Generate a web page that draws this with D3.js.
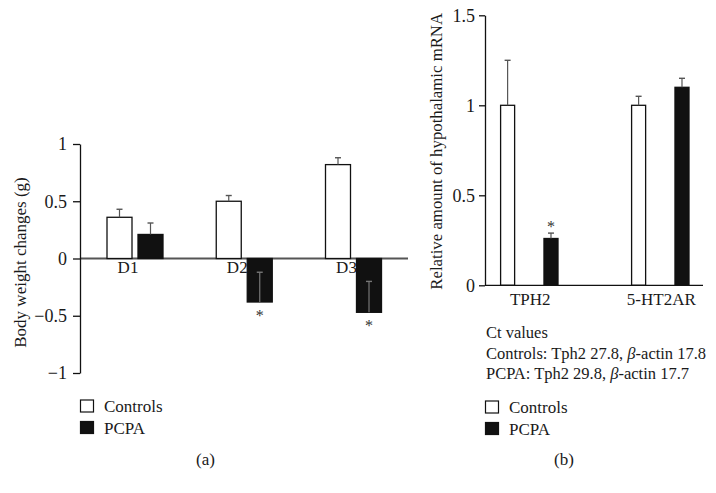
<!DOCTYPE html>
<html>
<head>
<meta charset="utf-8">
<script src="https://cdn.jsdelivr.net/npm/d3@7"></script>
<style>
  body { margin: 0; background: #fff; }
  svg text { font-family: "Liberation Serif", "DejaVu Serif", serif; fill: #1a1a1a; }
</style>
</head>
<body>
<div id="chart"></div>
<script>
// Panel (a): body weight changes
const days = ["D1", "D2", "D3"];
const ctrlA = [0.36, 0.50, 0.82];
const ctrlErrA = [0.07, 0.05, 0.06];
const pcpaA = [0.21, -0.38, -0.47];
const pcpaErrA = [0.10, 0.26, 0.27];
const starA = [false, true, true];
const ticksA = [-1, -0.5, 0, 0.5, 1];

// Panel (b): relative hypothalamic mRNA
const genes = ["TPH2", "5-HT2AR"];
const ctrlB = [1.0, 1.0];
const ctrlErrB = [0.25, 0.05];
const pcpaB = [0.26, 1.10];
const pcpaErrB = [0.03, 0.05];
const starB = [true, false];
const ticksB = [0, 0.5, 1, 1.5];

const series = ["Controls", "PCPA"];
const ctValues = ["Ct values", "Controls: Tph2 27.8, ", "PCPA: Tph2 29.8, "];

const W = 716, H = 493;
const FS = 17;   // general text size
const svg = d3.select("#chart").append("svg").attr("width", W).attr("height", H);
const fmt = d => d3.format("")(d);
const barFill = { Controls: "#fff", PCPA: "#111" };

function rows(ctrl, ctrlErr, pcpa, pcpaErr, cats) {
  const out = [];
  cats.forEach((c, i) => {
    out.push({ cat: c, s: "Controls", v: ctrl[i], e: ctrlErr[i] });
    out.push({ cat: c, s: "PCPA", v: pcpa[i], e: pcpaErr[i] });
  });
  return out;
}

// ---------- panel a ----------
const yA = d3.scaleLinear().domain([-1, 1]).range([373, 144]);
const xA = d3.scalePoint().domain(days).range([135, 353.5]);
const subA = d3.scaleBand().domain(series).range([-28, 28]).paddingInner(6 / 31);
const gA = svg.append("g");
const dataA = rows(ctrlA, ctrlErrA, pcpaA, pcpaErrA, days);

gA.append("line")
  .attr("x1", 80).attr("x2", 408)
  .attr("y1", yA(0)).attr("y2", yA(0))
  .attr("stroke", "#555").attr("stroke-width", 2);

gA.selectAll("rect.bar").data(dataA).enter().append("rect")
  .attr("class", "bar")
  .attr("x", d => xA(d.cat) + subA(d.s))
  .attr("y", d => yA(Math.max(0, d.v)))
  .attr("width", subA.bandwidth())
  .attr("height", d => Math.abs(yA(d.v) - yA(0)))
  .attr("fill", d => barFill[d.s])
  .attr("stroke", "#111").attr("stroke-width", 1.3);

// category labels sit on top of the bars
gA.selectAll("text.cat").data(days).enter().append("text")
  .attr("class", "cat")
  .attr("x", d => xA(d) - 7)
  .attr("y", yA(0) + 14)
  .attr("text-anchor", "middle").attr("font-size", FS).text(d => d);

// error bars: positive bars go up, negative bars go back towards zero
dataA.forEach(d => {
  const cx = xA(d.cat) + subA(d.s) + subA.bandwidth() / 2;
  const tip = d.v + d.e;
  const col = d.v < 0 ? "#777" : "#555";
  gA.append("line").attr("x1", cx).attr("x2", cx)
    .attr("y1", yA(d.v)).attr("y2", yA(tip))
    .attr("stroke", col).attr("stroke-width", 1.2);
  gA.append("line").attr("x1", cx - 3).attr("x2", cx + 3)
    .attr("y1", yA(tip)).attr("y2", yA(tip))
    .attr("stroke", col).attr("stroke-width", 1.4);
});

days.forEach((c, i) => {
  if (!starA[i]) return;
  const cx = xA(c) + subA("PCPA") + subA.bandwidth() / 2;
  gA.append("text").attr("x", cx).attr("y", yA(pcpaA[i]) + 19)
    .attr("text-anchor", "middle").attr("font-size", 16).style("fill", "#333").text("*");
});

const axA = gA.append("g").attr("transform", "translate(80,0)")
  .call(d3.axisLeft(yA).tickValues(ticksA).tickFormat(fmt).tickSize(7).tickSizeOuter(0).tickPadding(6));
axA.select(".domain").attr("stroke", "#111").attr("stroke-width", 1.3);
axA.selectAll(".tick line").attr("stroke", "#111").attr("stroke-width", 1.3);
axA.selectAll(".tick text").attr("font-size", FS + 1).attr("font-family", null);

gA.append("text")
  .attr("transform", `translate(26,${(144 + 373) / 2 + 4}) rotate(-90)`)
  .attr("text-anchor", "middle").attr("font-size", FS)
  .text("Body weight changes (g)");

// ---------- panel b ----------
const yB = d3.scaleLinear().domain([0, 1.5]).range([285.3, 15.3]);
const xB = d3.scalePoint().domain(genes).range([529.3, 660.3]);
const subB = d3.scaleBand().domain(series).range([-28.7, 28.7]).paddingInner(29.3 / 43.3);
const gB = svg.append("g");
const dataB = rows(ctrlB, ctrlErrB, pcpaB, pcpaErrB, genes);

gB.selectAll("rect.bar").data(dataB).enter().append("rect")
  .attr("class", "bar")
  .attr("x", d => xB(d.cat) + subB(d.s))
  .attr("y", d => yB(d.v))
  .attr("width", subB.bandwidth())
  .attr("height", d => yB(0) - yB(d.v))
  .attr("fill", d => barFill[d.s])
  .attr("stroke", "#111").attr("stroke-width", 1.3);

dataB.forEach(d => {
  const cx = xB(d.cat) + subB(d.s) + subB.bandwidth() / 2;
  const tip = d.v + d.e;
  gB.append("line").attr("x1", cx).attr("x2", cx)
    .attr("y1", yB(d.v)).attr("y2", yB(tip))
    .attr("stroke", "#555").attr("stroke-width", 1.2);
  gB.append("line").attr("x1", cx - 3).attr("x2", cx + 3)
    .attr("y1", yB(tip)).attr("y2", yB(tip))
    .attr("stroke", "#555").attr("stroke-width", 1.4);
});

genes.forEach((c, i) => {
  if (!starB[i]) return;
  const cx = xB(c) + subB("PCPA") + subB.bandwidth() / 2;
  gB.append("text").attr("x", cx).attr("y", yB(pcpaB[i] + pcpaErrB[i]) - 1)
    .attr("text-anchor", "middle").attr("font-size", 16).style("fill", "#333").text("*");
});

const axBx = gB.append("g").attr("transform", `translate(0,${yB(0)})`);
axBx.append("line").attr("x1", 485).attr("x2", 703).attr("stroke", "#111").attr("stroke-width", 1.3);
axBx.selectAll("text").data(genes).enter().append("text")
  .attr("x", d => xB(d) + 1).attr("y", 20)
  .attr("text-anchor", "middle").attr("font-size", FS).text(d => d);

const axB = gB.append("g").attr("transform", "translate(485,0)")
  .call(d3.axisLeft(yB).tickValues(ticksB).tickFormat(fmt).tickSize(6).tickSizeOuter(0).tickPadding(4));
axB.select(".domain").attr("stroke", "#111").attr("stroke-width", 1.3);
axB.selectAll(".tick line").attr("stroke", "#111").attr("stroke-width", 1.3);
axB.selectAll(".tick text").attr("font-size", FS + 1).attr("font-family", null);

gB.append("text")
  .attr("transform", `translate(442,${(15.3 + 285.3) / 2 + 1}) rotate(-90)`)
  .attr("text-anchor", "middle").attr("font-size", 16.8)
  .text("Relative amount of hypothalamic mRNA");

// Ct values note
const NS = 16.5;
const note = gB.append("text").attr("x", 486).attr("y", 338).attr("font-size", NS);
note.append("tspan").text(ctValues[0]);
const ln1 = gB.append("text").attr("x", 486).attr("y", 358.5).attr("font-size", NS);
ln1.append("tspan").text(ctValues[1]);
ln1.append("tspan").attr("font-style", "italic").text("β");
ln1.append("tspan").text("-actin 17.8");
const ln2 = gB.append("text").attr("x", 486).attr("y", 379).attr("font-size", NS);
ln2.append("tspan").text(ctValues[2]);
ln2.append("tspan").attr("font-style", "italic").text("β");
ln2.append("tspan").text("-actin 17.7");

// ---------- legends and panel letters ----------
function legend(x, y) {
  const g = svg.append("g").attr("transform", `translate(${x},${y})`);
  series.forEach((s, i) => {
    g.append("rect").attr("x", 0.5).attr("y", i * 21.5 + 0.5).attr("width", 13).attr("height", 12)
      .attr("fill", barFill[s]).attr("stroke", "#111").attr("stroke-width", 1.2);
    g.append("text").attr("x", 24).attr("y", i * 21.5 + 12.5).attr("font-size", FS).text(s);
  });
}
legend(80, 399.5);
legend(485, 400.5);

svg.append("text").attr("x", 205.5).attr("y", 465).attr("text-anchor", "middle").attr("font-size", FS).text("(a)");
svg.append("text").attr("x", 564).attr("y", 465).attr("text-anchor", "middle").attr("font-size", FS).text("(b)");
</script>
</body>
</html>
